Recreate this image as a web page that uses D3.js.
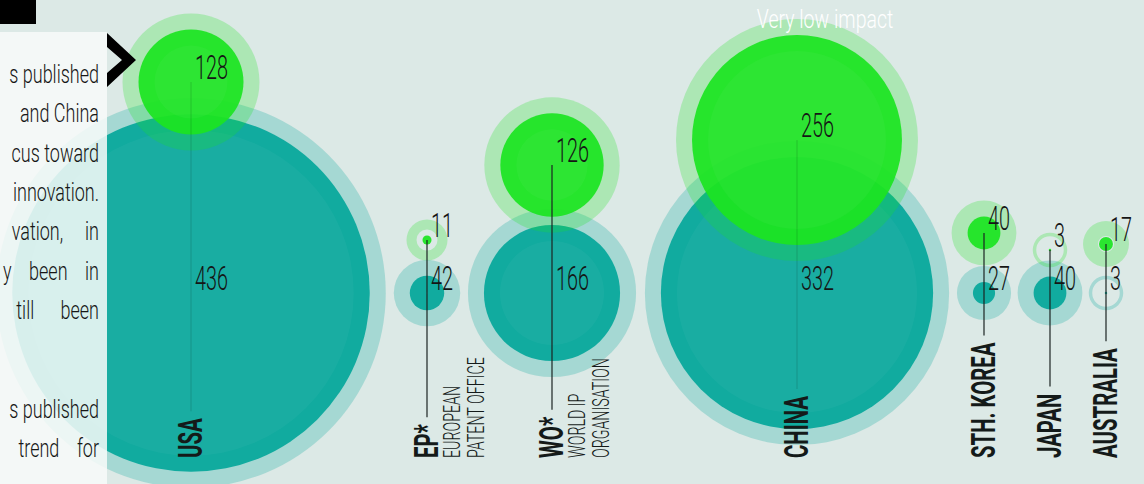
<!DOCTYPE html>
<html>
<head>
<meta charset="utf-8">
<script src="https://cdn.jsdelivr.net/npm/d3@7"></script>
<style>
  html, body { margin: 0; padding: 0; background: #dce9e6; overflow: hidden; }
  svg { display: block; }
  text { font-family: Roboto, "Liberation Sans Narrow", sans-serif; }
</style>
</head>
<body>
<div id="chart"></div>
<script>
var countries = ["USA", "EP*", "WO*", "CHINA", "STH. KOREA", "JAPAN", "AUSTRALIA"];
var subtitles = [[], ["EUROPEAN", "PATENT OFFICE"], ["WORLD IP", "ORGANISATION"], [], [], [], []];
var veryLowImpact = [128, 11, 126, 256, 40, 3, 17];
var published = [436, 42, 166, 332, 27, 40, 3];
var para1 = ["s published", "and China", "cus toward", "innovation.", "vation,     in", "y    been    in", "till      been"];
var para2 = ["s published", "trend    for"];

var width = 1144, height = 484;
var svg = d3.select("#chart").append("svg").attr("width", width).attr("height", height);
svg.append("rect").attr("width", width).attr("height", height).attr("fill", "#dce9e6");

// layout: column centres and the height of the green bubble in each column
var x = d3.scaleOrdinal().domain(countries).range([191, 427, 552, 797, 984, 1050, 1106]);
var yGreen = d3.scaleOrdinal().domain(countries).range([82, 240, 165, 140, 233, 250, 244]);
var yTeal = 293;
var r = d3.scaleLinear().domain([0, 100]).range([0, 41]);
var halo = 16, labelBase = 458;
var teal = "#11ab9f", green = "#1ce421";

var data = countries.map(function(c, i) {
  return {name: c, sub: subtitles[i], low: veryLowImpact[i], pub: published[i]};
});

var ring = d3.arc().startAngle(0).endAngle(2 * Math.PI);

function bubble(g, value, cx, cy, color, haloOpacity, fillOpacity) {
  var rr = r(value);
  g.append("path")
    .attr("transform", "translate(" + cx + "," + cy + ")")
    .attr("d", ring({innerRadius: Math.max(0, 15 - rr), outerRadius: rr + halo}))
    .attr("fill", color).attr("fill-opacity", haloOpacity);
  g.append("circle").attr("cx", cx).attr("cy", cy).attr("r", rr)
    .attr("fill", color).attr("fill-opacity", fillOpacity);
  if (rr > halo) {
    g.append("circle").attr("cx", cx).attr("cy", cy).attr("r", rr - halo)
      .attr("fill", "#fff").attr("fill-opacity", 0.035);
  }
}

var bubbles = svg.append("g");
data.forEach(function(d) {
  var g = bubbles.append("g");
  bubble(g, d.pub, x(d.name), yTeal, teal, 0.27, 1);
  bubble(g, d.low, x(d.name), yGreen(d.name), green, 0.25, 0.93);
});

// country labels, rotated
var labels = svg.append("g").attr("fill", "#141a19");
data.forEach(function(d) {
  var g = labels.append("g")
    .attr("transform", "translate(" + (x(d.name) + 11) + "," + labelBase + ") rotate(-90)");
  var t = g.append("text")
    .attr("transform", "scale(0.6,1)")
    .attr("font-size", 34)
    .attr("font-weight", 700)
    .text(d.name);
  d.labelLen = t.node().getComputedTextLength() * 0.6;
  d.sub.forEach(function(s, j) {
    g.append("text")
      .attr("transform", "translate(0," + (22 + j * 24) + ") scale(0.62,1)")
      .attr("font-size", 23)
      .attr("font-weight", 300)
      .text(s);
  });
});

// connector lines
var lines = svg.append("g");
data.forEach(function(d) {
  var y2 = labelBase - d.labelLen - 7;
  var inside = y2 < yTeal + r(d.pub);
  lines.append("line")
    .attr("x1", x(d.name)).attr("x2", x(d.name))
    .attr("y1", yGreen(d.name)).attr("y2", y2)
    .attr("stroke", inside ? "#000" : "#1b2422")
    .attr("stroke-opacity", inside ? 0.13 : 1)
    .attr("stroke-width", 1.2);
});

// value labels
var values = svg.append("g").attr("fill", "#151515");
function valueLabel(v, cx, cy) {
  values.append("text")
    .attr("transform", "translate(" + (cx + 4) + "," + (cy - 3) + ") scale(0.6,1)")
    .attr("font-size", 33)
    .attr("font-weight", 300)
    .text(v);
}
data.forEach(function(d) {
  valueLabel(d.low, x(d.name), yGreen(d.name));
  valueLabel(d.pub, x(d.name), yTeal);
});

// annotation
svg.append("text")
  .attr("transform", "translate(825,28) scale(0.78,1)")
  .attr("text-anchor", "middle")
  .attr("font-size", 25)
  .attr("font-weight", 300)
  .attr("fill", "#ffffff")
  .text("Very low impact");

// left text panel
svg.append("rect")
  .attr("x", 0).attr("y", 32).attr("width", 107).attr("height", height - 32)
  .attr("fill", "#f8faf9").attr("fill-opacity", 0.86);

var panel = svg.append("g").attr("fill", "#161616").attr("font-size", 25).attr("font-weight", 300);
function panelLine(s, y) {
  panel.append("text")
    .attr("transform", "translate(99," + y + ") scale(0.72,1)")
    .attr("text-anchor", "end")
    .attr("xml:space", "preserve")
    .style("white-space", "pre")
    .text(s);
}
para1.forEach(function(s, i) { panelLine(s, 83 + i * 39.3); });
para2.forEach(function(s, i) { panelLine(s, 418 + i * 39.3); });

// chevron and black tab
svg.append("path")
  .attr("d", "M107,33L136,60L107,87L107,73L122,60L107,47Z")
  .attr("fill", "#000");
svg.append("rect").attr("x", 0).attr("y", 0).attr("width", 36).attr("height", 24).attr("fill", "#000");
</script>
</body>
</html>
